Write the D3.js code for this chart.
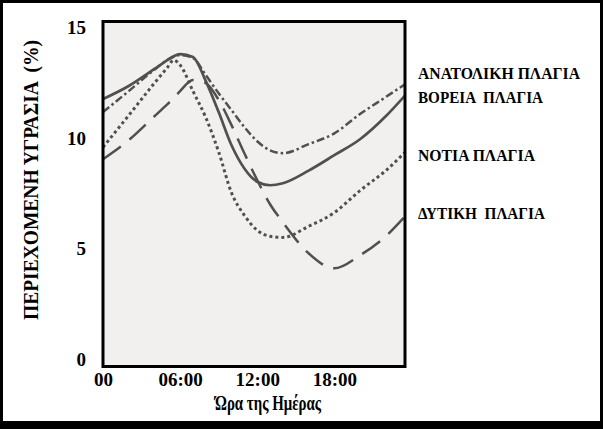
<!DOCTYPE html>
<html><head><meta charset="utf-8">
<script src="https://cdn.jsdelivr.net/npm/d3@7"></script>
<style>
html,body{margin:0;padding:0;background:#fff;}
svg{display:block;}
text{font-weight:bold;fill:#000;font-family:'Liberation Serif','Times New Roman',serif;}
</style></head>
<body>
<svg id="chart" width="603" height="429"></svg>
<script>
// Data
const hours = [0, 2, 4, 5, 5.5, 6, 7, 8, 9, 10, 11, 12, 13, 14, 16, 18, 20, 22, 23.5];
const east  = [11.15, 12.1, 13.07, 13.5, 13.65, 13.73, 13.6, 12.82, 12.0, 11.24, 10.47, 9.83, 9.42, 9.29, 9.7, 10.19, 11.06, 11.83, 12.41];
const north = [11.74, 12.33, 13.1, 13.5, 13.68, 13.77, 13.64, 12.55, 11.15, 9.65, 8.6, 8.0, 7.84, 7.93, 8.5, 9.2, 9.92, 10.96, 11.9];
const south = [9.56, 11.0, 12.46, 13.16, 13.5, 13.28, 12.1, 10.9, 9.35, 7.5, 6.48, 5.8, 5.53, 5.48, 5.98, 6.6, 7.6, 8.5, 9.33];
const west  = [9.02, 9.88, 10.96, 11.5, 11.78, 12.1, 12.6, 12.46, 11.7, 10.56, 9.29, 8.07, 6.98, 6.16, 4.76, 4.08, 4.67, 5.53, 6.43];
const seriesNames = ["ΑΝΑΤΟΛΙΚΗ ΠΛΑΓΙΑ", "ΒΟΡΕΙΑ  ΠΛΑΓΙΑ", "ΝΟΤΙΑ ΠΛΑΓΙΑ", "ΔΥΤΙΚΗ  ΠΛΑΓΙΑ"];
const xTickHours = [0, 6, 12, 18];
const xTickLabels = ["00", "06:00", "12:00", "18:00"];
const yTicks = [0, 5, 10, 15];
const yTitle = "ΠΕΡΙΕΧΟΜΕΝΗ ΥΓΡΑΣΙΑ  (%)";
const xTitle = "Ώρα της Ημέρας";

const SERIF = "'Liberation Serif','Times New Roman',serif";

const svg = d3.select("#chart");
const W = 603, H = 429;

// outer black frame
svg.append("rect").attr("x", 0).attr("y", 0).attr("width", W).attr("height", H).attr("fill", "#000");
svg.append("rect").attr("x", 3).attr("y", 3).attr("width", W - 6).attr("height", H - 3 - 8).attr("fill", "#fff");

const frame = {x0: 103, x1: 405, y0: 21.5, y1: 366.5};
const x = d3.scaleLinear().domain([0, 23.5]).range([103, 405]);
const y = d3.scaleLinear().domain([0, 15]).range([358.5, 27]);

// plot background
svg.append("rect").attr("x", frame.x0).attr("y", frame.y0)
  .attr("width", frame.x1 - frame.x0).attr("height", frame.y1 - frame.y0)
  .attr("fill", "#f2f0ee");

svg.append("clipPath").attr("id", "pc").append("rect")
  .attr("x", frame.x0).attr("y", frame.y0).attr("width", frame.x1 - frame.x0).attr("height", frame.y1 - frame.y0);

const line = d3.line().x(d => x(d[0])).y(d => y(d[1])).curve(d3.curveMonotoneX);
const styles = [
  {data: east,  dash: "8,3,2.5,3", w: 2.5},
  {data: north, dash: null, w: 2.7},
  {data: south, dash: "3,3", w: 3},
  {data: west,  dash: "22,11", w: 2.5}
];
const g = svg.append("g").attr("clip-path", "url(#pc)");
styles.forEach(s => {
  g.append("path")
    .datum(hours.map((h, i) => [h, s.data[i]]))
    .attr("d", line)
    .attr("fill", "none")
    .attr("stroke", "#505050")
    .attr("stroke-width", s.w)
    .attr("stroke-dasharray", s.dash);
});

// plot frame
svg.append("rect").attr("x", frame.x0).attr("y", frame.y0)
  .attr("width", frame.x1 - frame.x0).attr("height", frame.y1 - frame.y0)
  .attr("fill", "none").attr("stroke", "#000").attr("stroke-width", 3);

// y axis tick labels
const yAxis = d3.axisLeft(y).tickValues(yTicks).tickSize(0).tickPadding(0);
const ya = svg.append("g").attr("transform", "translate(86,0)").call(yAxis);
ya.select(".domain").remove();
ya.selectAll("text").attr("font-size", 19).attr("dy", "0.36em")
  .style("font-family", SERIF).style("font-weight", "bold");

// x axis tick labels
const xAxis = d3.axisBottom(x).tickValues(xTickHours).tickFormat((d, i) => xTickLabels[i]).tickSize(0).tickPadding(0);
const xa = svg.append("g").attr("transform", "translate(0,372)").call(xAxis);
xa.select(".domain").remove();
xa.selectAll("text").attr("font-size", 19).attr("dy", "0.71em")
  .style("font-family", SERIF).style("font-weight", "bold");

// axis titles (sized by height, squeezed to the reference width)
svg.append("text").attr("transform", "translate(38,180) rotate(-90)")
  .attr("text-anchor", "middle").attr("font-size", 20)
  .attr("textLength", 280).attr("lengthAdjust", "spacingAndGlyphs")
  .style("white-space", "pre").text(yTitle);
svg.append("text").attr("x", 268).attr("y", 410)
  .attr("text-anchor", "middle").attr("font-size", 20)
  .attr("textLength", 106).attr("lengthAdjust", "spacingAndGlyphs")
  .text(xTitle);

// series labels at right
const labelY = [79, 103, 161, 219];
const labelW = [162, 125, 117, 127];
seriesNames.forEach((n, i) => {
  svg.append("text").attr("x", 418).attr("y", labelY[i]).attr("font-size", 16.5)
    .attr("textLength", labelW[i]).attr("lengthAdjust", "spacingAndGlyphs")
    .style("white-space", "pre").text(n);
});
</script>
</body></html>
